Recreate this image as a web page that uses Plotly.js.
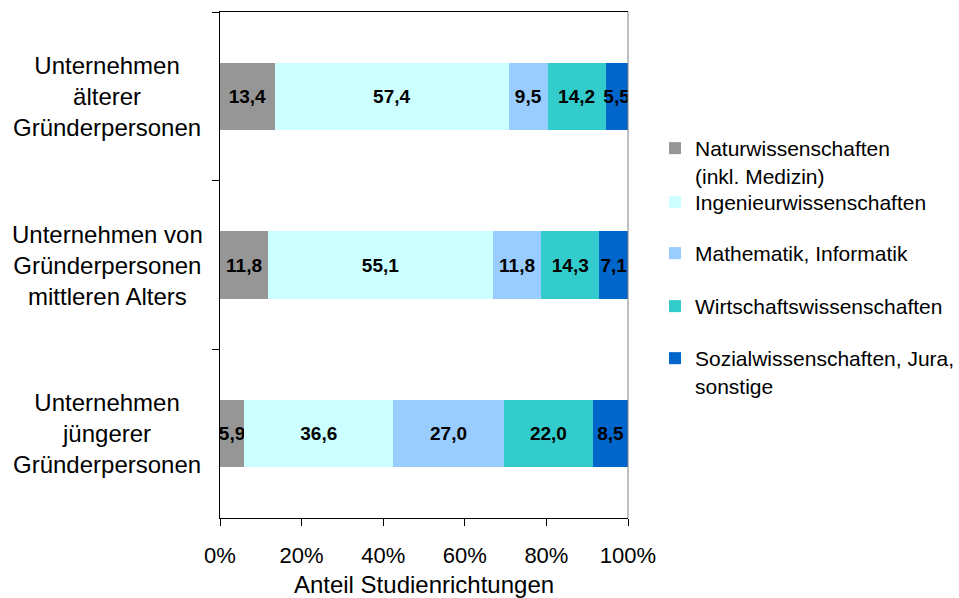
<!DOCTYPE html>
<html>
<head>
<meta charset="utf-8">
<script src="https://cdn.plot.ly/plotly-3.0.1.min.js"></script>
<style>html,body{margin:0;padding:0;background:#fff;}#chart{width:959px;height:598px;}</style>
</head>
<body>
<div id="chart"></div>
<script>
// Categories (top to bottom)
const categories = [
  "Unternehmen<br>älterer<br>Gründerpersonen",
  "Unternehmen von<br>Gründerpersonen<br>mittleren Alters",
  "Unternehmen<br>jüngerer<br>Gründerpersonen"
];
const seriesNames = [
  "Naturwissenschaften<br>(inkl. Medizin)",
  "Ingenieurwissenschaften",
  "Mathematik, Informatik",
  "Wirtschaftswissenschaften",
  "Sozialwissenschaften, Jura,<br>sonstige"
];
const naturwissenschaften = [13.4, 11.8, 5.9];
const ingenieurwissenschaften = [57.4, 55.1, 36.6];
const mathematikInformatik = [9.5, 11.8, 27.0];
const wirtschaftswissenschaften = [14.2, 14.3, 22.0];
const sozialwissenschaften = [5.5, 7.1, 8.5];
const xTickValues = [0, 20, 40, 60, 80, 100];
const xTickLabels = ["0%", "20%", "40%", "60%", "80%", "100%"];

const seriesValues = [naturwissenschaften, ingenieurwissenschaften, mathematikInformatik, wirtschaftswissenschaften, sozialwissenschaften];
const colors = ["#969696", "#CCFFFF", "#99CCFF", "#33CCCC", "#0066CC"];
const legendIds = ["legend", "legend2", "legend3", "legend4", "legend5"];
const legendTopPx = [128, 182, 233, 286, 338];

const FONT = "Arial, 'Liberation Sans', sans-serif";

const traces = seriesValues.map((vals, i) => ({
  type: "bar",
  orientation: "h",
  name: seriesNames[i],
  x: vals,
  y: categories,
  marker: {color: colors[i], line: {width: 0}},
  texttemplate: "%{x:.1f}",
  textposition: "inside",
  insidetextanchor: "middle",
  textangle: 0,
  constraintext: "none",
  textfont: {family: FONT, size: 19, color: "#000", weight: "bold"},
  hoverinfo: "skip",
  legend: legendIds[i]
}));

const plotTop = 12, plotBottom = 518, plotLeft = 220, plotRight = 628;
const plotH = plotBottom - plotTop, plotW = plotRight - plotLeft;

const layout = {
  width: 959, height: 598,
  margin: {l: plotLeft, r: 959 - plotRight, t: plotTop, b: 598 - plotBottom, pad: 0, autoexpand: false},
  paper_bgcolor: "#fff", plot_bgcolor: "#fff",
  barmode: "stack",
  bargap: 0.6,
  separators: ",.",
  font: {family: FONT, color: "#000"},
  showlegend: true,
  xaxis: {
    range: [0, 100],
    tickmode: "array",
    tickvals: xTickValues,
    ticktext: xTickLabels,
    ticks: "outside", ticklen: 7, tickcolor: "#000", tickwidth: 1,
    showline: true, linecolor: "#000", linewidth: 1, mirror: true,
    showgrid: false, zeroline: false,
    tickfont: {family: FONT, size: 22, color: "#000"},
    ticklabelstandoff: 11,
    title: {text: "Anteil Studienrichtungen", font: {family: FONT, size: 24, color: "#000"}, standoff: 10},
    automargin: false, fixedrange: true
  },
  yaxis: {
    type: "category",
    autorange: "reversed",
    showticklabels: false,
    ticks: "outside", ticklen: 7, tickcolor: "#000", tickson: "boundaries",
    showline: true, linecolor: "#000", linewidth: 1, mirror: false,
    showgrid: false, zeroline: false,
    automargin: false, fixedrange: true
  },
  shapes: [{
    type: "line", xref: "paper", yref: "paper", x0: 1, x1: 1, y0: 0, y1: 1,
    line: {color: "#808080", width: 1}
  }],
  annotations: categories.map(c => ({
    xref: "paper", yref: "y", x: (107.5 - plotLeft) / plotW, y: c,
    text: c, showarrow: false, xanchor: "center", yanchor: "middle", align: "center",
    font: {family: FONT, size: 24, color: "#000"}
  }))
};

legendIds.forEach((id, i) => {
  layout[id] = {
    x: (655 - plotLeft) / plotW,
    y: (plotBottom - legendTopPx[i]) / plotH,
    xanchor: "left", yanchor: "top",
    valign: "top",
    bgcolor: "rgba(0,0,0,0)",
    borderwidth: 0,
    font: {family: FONT, size: 21, color: "#000"}
  };
});

Plotly.newPlot("chart", traces, layout, {displayModeBar: false, staticPlot: true});
</script>
</body>
</html>
